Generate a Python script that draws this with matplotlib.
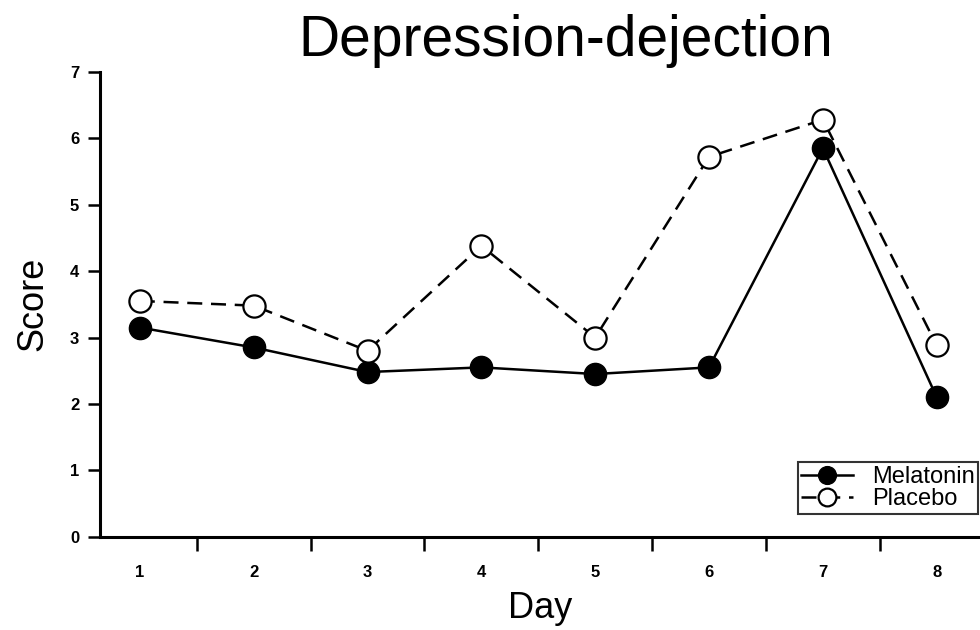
import matplotlib
matplotlib.use('Agg')
import matplotlib.pyplot as plt
from matplotlib.ticker import FixedLocator, NullFormatter

days = [1, 2, 3, 4, 5, 6, 7, 8]
melatonin = [3.15, 2.85, 2.48, 2.55, 2.45, 2.55, 5.85, 2.1]
placebo = [3.55, 3.48, 2.8, 4.38, 3.0, 5.72, 6.28, 2.88]
y_ticks = [0, 1, 2, 3, 4, 5, 6, 7]

plt.rcParams['font.family'] = ['Liberation Sans', 'DejaVu Sans']

fig = plt.figure(figsize=(9.8, 6.3), dpi=100)
ax = fig.add_axes([0.102, 0.148, 0.898, 0.738])

ax.plot(days, melatonin, color='black', lw=1.8, marker='o', ms=16,
        mfc='black', mec='black', label='Melatonin', clip_on=False)
ax.plot(days, placebo, color='black', lw=1.8, ls=(0, (6, 3.5)), marker='o', ms=16,
        mfc='white', mec='black', mew=1.6, label='Placebo', clip_on=False)

ax.set_xlim(0.65, 8.38)
ax.set_ylim(0, 7)

# labels sit at days, tick marks sit between days
ax.set_xticks(days)
ax.set_xticklabels([str(d) for d in days], fontsize=12, fontweight='bold')
ax.xaxis.set_minor_locator(FixedLocator([d + 0.5 for d in days[:-1]]))
ax.xaxis.set_minor_formatter(NullFormatter())
ax.tick_params(axis='x', which='major', length=0, pad=20)
ax.tick_params(axis='x', which='minor', length=10, width=1.8, direction='out')

ax.set_yticks(y_ticks)
ax.set_yticklabels([str(v) for v in y_ticks], fontsize=12, fontweight='bold')
ax.tick_params(axis='y', length=9, width=1.8, direction='out', pad=6)

for s in ['top', 'right']:
    ax.spines[s].set_visible(False)
for s in ['left', 'bottom']:
    ax.spines[s].set_linewidth(2.2)

ax.set_xlabel('Day', fontsize=26, labelpad=8)
ax.set_ylabel('Score', fontsize=26, labelpad=14)
fig.text(0.577, 0.935, 'Depression-dejection', fontsize=41, ha='center', va='center')

leg = ax.legend(loc='lower right', bbox_to_anchor=(0.998, 0.05), fontsize=17,
                frameon=True, fancybox=False, borderpad=0.15, labelspacing=0.0,
                handlelength=2.2, handletextpad=0.8, borderaxespad=0, markerscale=0.8)
leg.get_frame().set_edgecolor('black')
leg.get_frame().set_linewidth(1.5)

fig.savefig('out.png', dpi=100)
